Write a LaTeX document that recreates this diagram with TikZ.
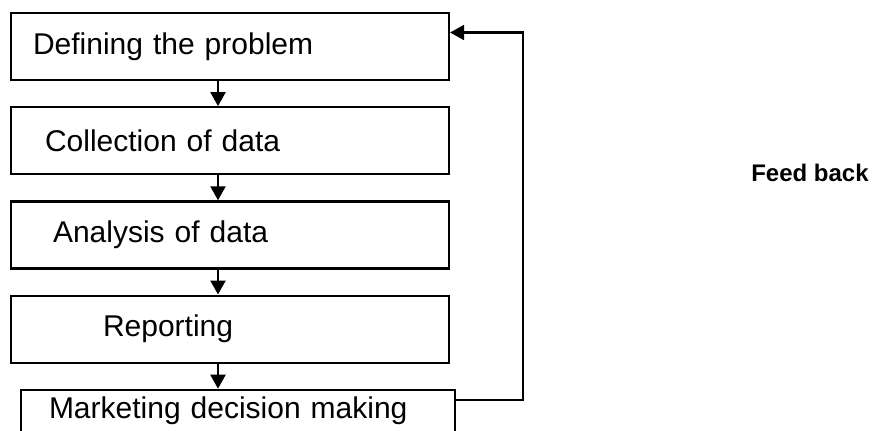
\documentclass[tikz,border=0pt]{standalone}
\usepackage{fontspec}
\setmainfont{Liberation Sans}
\usetikzlibrary{arrows.meta, positioning}

\begin{document}
\begin{tikzpicture}[
  stage/.style={rectangle, draw, line width=1.1pt, minimum width=219pt, minimum height=33.5pt,
    text width=219pt, inner xsep=0pt, align=left, font=\fontsize{15pt}{18pt}\selectfont},
  flow/.style={-{Triangle[width=7.5pt, length=7pt]}, line width=1.1pt},
  note/.style={font=\fontsize{12pt}{14pt}\selectfont\bfseries}
]
\useasboundingbox (0,0) rectangle (443.5pt,-215pt);

% Stages
\node[stage] (define) at (115pt,-23.25pt) {\hspace*{11pt}Defining the problem};
\node[stage, below=12.5pt of define] (collect) {\hspace*{17pt}Collection of data};
\node[stage, below=12.5pt of collect] (analyse) {\hspace*{21pt}Analysis of data};
\node[stage, below=12.5pt of analyse] (report) {\hspace*{46pt}Reporting};
\node[stage, below=12.5pt of report, xshift=4pt, minimum width=217pt, text width=217pt,
  text depth=17pt] (decide) {\hspace*{14pt}Marketing decision making};

% Arrows between stages
\draw[flow] ([xshift=-6pt]define.south) -- ([xshift=-6pt]collect.north);
\draw[flow] ([xshift=-6pt]collect.south) -- ([xshift=-6pt]analyse.north);
\draw[flow] ([xshift=-6pt]analyse.south) -- ([xshift=-6pt]report.north);
\draw[flow] ([xshift=-6pt]report.south) -- ([xshift=-10pt]decide.north);

% Feedback loop
\draw[flow] ([yshift=12pt]decide.east) -- ++(33.5pt,0) |- ([yshift=7pt]define.east);
\node[note] (feed) at (405pt,-86.5pt) {Feed back};

\end{tikzpicture}
\end{document}
